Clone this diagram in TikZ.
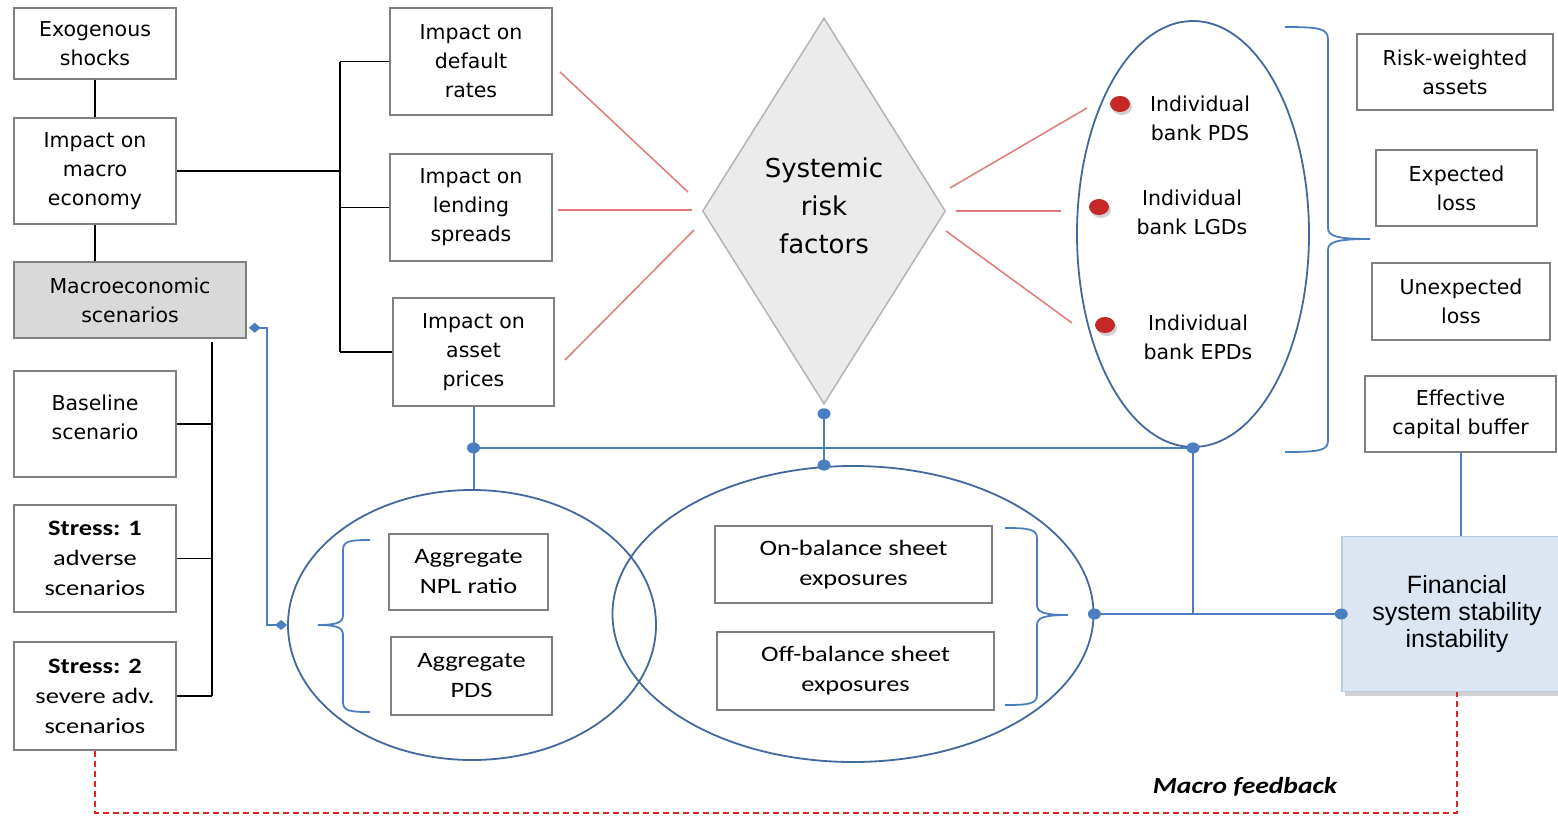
\documentclass[tikz,border=0pt]{standalone}
\usepackage{fontspec}
\setmainfont{DejaVu Sans}
\newfontfamily\calfont[FakeStretch=1.2]{Carlito}
\newfontfamily\arfont{Liberation Sans}
\usetikzlibrary{shapes.geometric,arrows.meta,shadows,calc}
\definecolor{boxgray}{HTML}{808080}
\definecolor{lblue}{HTML}{4A7EC0}
\definecolor{ellblue}{HTML}{44689E}
\definecolor{redln}{HTML}{E07A7A}
\definecolor{fbred}{HTML}{E02424}
\definecolor{scengray}{HTML}{D9D9D9}
\definecolor{dfill}{HTML}{EBEBEB}
\definecolor{dline}{HTML}{B4B4B4}
\definecolor{finfill}{HTML}{DCE6F2}
\definecolor{finline}{HTML}{B9CDE5}
\definecolor{dotred}{HTML}{C62828}
\newcommand\mainsz{\fontsize{20.5}{29}\selectfont}
\newcommand\calsz{\calfont\fontsize{22}{30}\selectfont}
\begin{document}
\begin{tikzpicture}[x=1pt,y=-1pt,
  box/.style={draw=boxgray, line width=1.5pt, fill=white, align=center, inner sep=2pt, font=\mainsz},
  calbox/.style={box, font=\calsz},
  blk/.style={draw=black, line width=1.8pt},
  bline/.style={draw=lblue, line width=2pt},
  rline/.style={draw=redln, line width=1.5pt},
  ell/.style={ellipse, draw=ellblue, line width=1.8pt, inner sep=0pt},
  brc/.style={draw=lblue, line width=1.8pt},
  lbl/.style={align=center, font=\mainsz, inner sep=0pt}
]
\useasboundingbox[fill=white] (0,0) rectangle (1558,817);

% ellipses
\node[ell, minimum width=368pt, minimum height=270pt] (ellL) at (472,625) {};
\node[ell, minimum width=481pt, minimum height=296pt] (ellB) at (853,614) {};
\node[ell, minimum width=232pt, minimum height=426pt] (ellR) at (1193,234) {};

% left column
\node[box, minimum width=162pt, minimum height=71pt] (exo) at (95,43.5) {Exogenous\\shocks};
\node[box, minimum width=162pt, minimum height=106pt] (macro) at (95,171) {Impact on\\macro\\economy};
\node[box, fill=scengray, minimum width=232pt, minimum height=76pt] (scen) at (130,300) {Macroeconomic\\scenarios};
\node[box, minimum width=162pt, minimum height=106pt] (base) at (95,424) {};
\node[lbl] (baset) at (95,417) {Baseline\\scenario};
\node[calbox, minimum width=162pt, minimum height=107pt] (st1) at (95,558.5) {\textbf{Stress: 1}\\adverse\\scenarios};
\node[calbox, minimum width=162pt, minimum height=108pt] (st2) at (95,696) {\textbf{Stress: 2}\\severe adv.\\scenarios};

% impact boxes
\node[box, minimum width=162pt, minimum height=107pt] (def) at (471,61.5) {Impact on\\default\\rates};
\node[box, minimum width=162pt, minimum height=107pt] (lend) at (471,207.5) {Impact on\\lending\\spreads};
\node[box, minimum width=161pt, minimum height=108pt] (asset) at (473.5,352) {Impact on\\asset\\prices};

% diamond
\node[diamond, aspect=0.63, draw=dline, line width=1.5pt, fill=dfill, minimum width=243pt, minimum height=386pt, inner sep=0pt] (srf) at (824,211) {};
\node[align=center, font=\fontsize{26}{38}\selectfont, inner sep=0pt] (srft) at (824,206) {Systemic\\risk\\factors};

% right ellipse content
\node[lbl] (ipds) at (1200,118) {Individual\\bank PDS};
\node[lbl] (ilgd) at (1192,212) {Individual\\bank LGDs};
\node[lbl] (iepd) at (1198,337) {Individual\\bank EPDs};
\foreach \p [count=\i] in {(1120,104),(1099,207),(1105,325)}{
  \fill[black, opacity=0.18] \p ++(2,3) ellipse[x radius=10pt, y radius=8pt];
  \fill[dotred] \p ellipse[x radius=10pt, y radius=8pt];
}

% right column
\node[box, minimum width=196pt, minimum height=76pt] (rwa) at (1455,72) {Risk-weighted\\assets};
\node[box, minimum width=161pt, minimum height=76pt] (el) at (1456.5,188) {Expected\\loss};
\node[box, minimum width=178pt, minimum height=77pt] (ul) at (1461,301.5) {Unexpected\\loss};
\node[box, minimum width=191pt, minimum height=76pt] (ecb) at (1460.5,414) {Effective\\capital buffer};
\node[draw=finline, line width=1.5pt, fill=finfill, minimum width=230pt, minimum height=155pt, align=center,
      font=\arfont\fontsize{25}{27}\selectfont,
      drop shadow={opacity=0.35, shadow xshift=3pt, shadow yshift=-4pt}] (fin) at (1457,614) {Financial\\system stability\\instability};

% bottom boxes
\node[calbox, minimum width=159pt, minimum height=76pt] (npl) at (468.5,572) {Aggregate\\NPL ratio};
\node[calbox, minimum width=161pt, minimum height=78pt] (apds) at (471.5,676) {Aggregate\\PDS};
\node[calbox, minimum width=277pt, minimum height=77pt] (onb) at (853.5,564.5) {On-balance sheet\\exposures};
\node[calbox, minimum width=277pt, minimum height=78pt] (offb) at (855.5,671) {Off-balance sheet\\exposures};

% black connectors
\draw[blk] (exo.south) -- (macro.north);
\draw[blk] (macro.south) -- (macro.south |- scen.north);
\coordinate (bus) at (340,171);
\draw[blk] (macro.east) -- (bus);
\draw[blk] (bus |- def.west) -- (bus |- asset.west);
\draw[blk] (bus |- def.west) -- (def.west);
\draw[blk] (bus |- lend.west) -- (lend.west);
\draw[blk] (bus |- asset.west) -- (asset.west);
\coordinate (sbus) at (212,342);
\draw[blk] (sbus) -- (sbus |- st2.east);
\draw[blk] (sbus |- base.east) -- (base.east);
\draw[blk] (sbus |- st1.east) -- (st1.east);
\draw[blk] (sbus |- st2.east) -- (st2.east);

% red lines
\coordinate (l1a) at (560,72);  \coordinate (l1b) at (688,192);
\coordinate (l2a) at (558,210); \coordinate (l2b) at (692,210);
\coordinate (l3a) at (565,360); \coordinate (l3b) at (694,230);
\coordinate (r1a) at (950,188); \coordinate (r1b) at (1087,108);
\coordinate (r2a) at (956,211); \coordinate (r2b) at (1061,211);
\coordinate (r3a) at (946,231); \coordinate (r3b) at (1072,323);
\draw[rline] (l1a) -- (l1b);
\draw[rline] (l2a) -- (l2b);
\draw[rline] (l3a) -- (l3b);
\draw[rline] (r1a) -- (r1b);
\draw[rline] (r2a) -- (r2b);
\draw[rline] (r3a) -- (r3b);

% blue connectors
\coordinate (j1) at (asset.south |- ellR.south);
\draw[bline] (asset.south) -- (asset.south |- ellL.north);
\draw[bline] (j1) -- (ellR.south);
\coordinate (d1) at ($(srf.south)+(0,9)$);
\coordinate (d2) at (srf.south |- ellB.north);
\draw[bline] (d1) -- (d2);
\coordinate (j2) at (ellR.south |- ellB.east);
\draw[bline] (ellR.south) -- (j2);
\draw[bline] (ellB.east) -- (fin.west);
\foreach \q in {j1, ellR.south, d1, d2, ellB.east, fin.west}
  \fill[lblue] (\q) ellipse[x radius=6.5pt, y radius=5.5pt];
\coordinate (m1) at ($(scen.south east)+(2,-11)$);
\draw[bline, {Diamond[length=12pt,width=10pt]}-{Diamond[length=12pt,width=10pt]}] (m1) -- ++(18,0) |- (ellL.west);

% ecb to fin
\draw[bline] (ecb.south) -- (ecb.south |- fin.north);

% braces
\draw[brc] (1285,27) .. controls (1322,27) and (1328,29) .. (1328,40) -- (1328,228)
  .. controls (1328,236) and (1336,239) .. (1370,239)
  .. controls (1336,239) and (1328,242) .. (1328,250) -- (1328,440)
  .. controls (1328,450) and (1322,452) .. (1285,452);
\draw[brc] (370,540) .. controls (350,540) and (343,541) .. (343,550) -- (343,615)
  .. controls (343,622) and (338,625) .. (318,625)
  .. controls (338,625) and (343,628) .. (343,635) -- (343,702)
  .. controls (343,711) and (350,712) .. (370,712);
\draw[brc] (1005,528) .. controls (1028,528) and (1037,529) .. (1037,538) -- (1037,605)
  .. controls (1037,612) and (1043,615) .. (1068,615)
  .. controls (1043,615) and (1037,618) .. (1037,625) -- (1037,695)
  .. controls (1037,704) and (1028,705) .. (1005,705);

% macro feedback
\draw[draw=fbred, line width=1.6pt, dash pattern=on 6pt off 4pt] (st2.south) -- ++(0,62) -| (fin.south);
\node[font=\calfont\fontsize{23}{28}\selectfont\bfseries\itshape, inner sep=0pt] (mfb) at (1245,787) {Macro feedback};
\end{tikzpicture}
\end{document}
